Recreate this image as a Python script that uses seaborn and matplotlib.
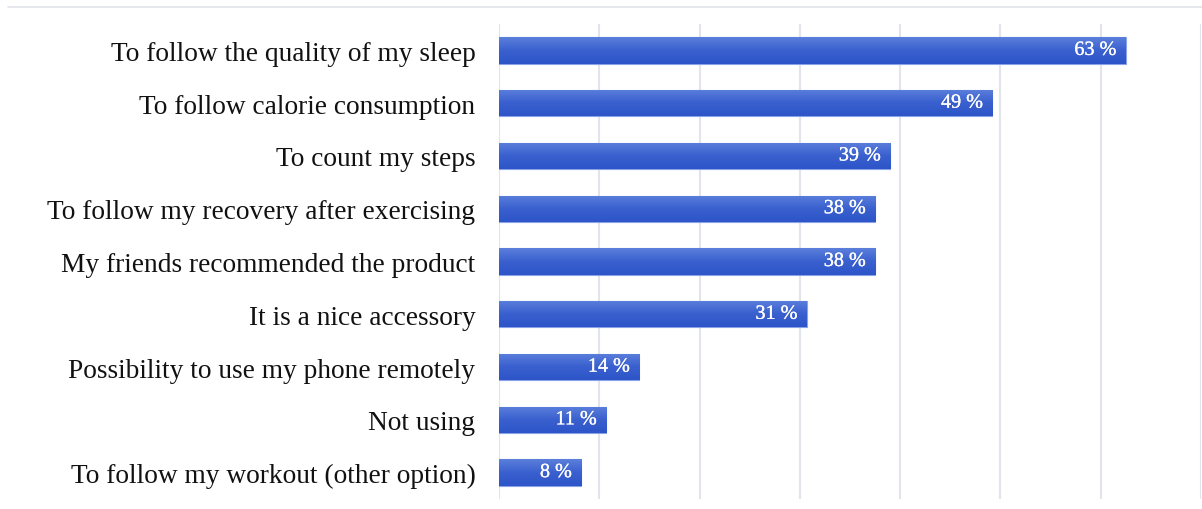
import matplotlib
matplotlib.use("Agg")
import matplotlib.pyplot as plt
import seaborn as sns
import pandas as pd
import numpy as np
from matplotlib.lines import Line2D
from matplotlib.colors import LinearSegmentedColormap
import matplotlib.patheffects as pe

categories = [
    "To follow the quality of my sleep",
    "To follow calorie consumption",
    "To count my steps",
    "To follow my recovery after exercising",
    "My friends recommended the product",
    "It is a nice accessory",
    "Possibility to use my phone remotely",
    "Not using",
    "To follow my workout (other option)",
]
values = [62.5, 49.2, 39.0, 37.5, 37.5, 30.7, 14.0, 10.7, 8.2]
value_labels = ["63 %", "49 %", "39 %", "38 %", "38 %", "31 %", "14 %", "11 %", "8 %"]

df = pd.DataFrame({"reason": categories, "pct": values})

sns.set_theme(style="white")
plt.rcParams["font.family"] = ["Liberation Serif", "DejaVu Serif"]

fig = plt.figure(figsize=(12.02, 5.10), dpi=100)
ax = fig.add_axes([499 / 1202, 1 - 500 / 510, 702 / 1202, 475 / 510])

sns.barplot(data=df, y="reason", x="pct", orient="h", color="#3b60cf",
            saturation=1, width=0.5, edgecolor="#8aa3e8", linewidth=0.8, ax=ax)

ax.set_xlim(0, 70)
ax.set_ylim(8.5, -0.5)

# vertical gradient fill clipped to each bar
cmap = LinearSegmentedColormap.from_list("g", ["#5b7fdb", "#3a60cf", "#2d55c8"])
grad = np.linspace(0, 1, 64).reshape(-1, 1)
for p in ax.patches:
    x0, y0 = p.get_x(), p.get_y()
    w, h = p.get_width(), p.get_height()
    im = ax.imshow(grad, cmap=cmap, aspect="auto", origin="upper",
                   extent=(x0, x0 + w, y0 + h, y0), zorder=p.get_zorder() + 0.1,
                   interpolation="bilinear")
    im.set_clip_path(p)
ax.set_xlim(0, 70)
ax.set_ylim(8.5, -0.5)

ax.set_xticks(range(0, 71, 10))
ax.set_xticklabels([])
ax.tick_params(axis="x", length=0)
ax.tick_params(axis="y", length=0, pad=17, labelsize=19.7, labelcolor="#111111")
ax.set_xlabel("")
ax.set_ylabel("")
ax.grid(axis="x", color="#e1e4ea", linewidth=1.5)
ax.set_axisbelow(True)
for s in ax.spines.values():
    s.set_visible(False)

for i, (v, lab) in enumerate(zip(values, value_labels)):
    ax.text(v - 0.95, i, lab, color="white", ha="right", va="center",
            fontsize=14.5, zorder=10,
            path_effects=[pe.withStroke(linewidth=0.2, foreground="white")])

fig.add_artist(Line2D([8 / 1202, 1.0], [1 - 8 / 510, 1 - 8 / 510],
                      color="#dfe4ea", linewidth=1.2))

fig.savefig("out.png", dpi=100)
